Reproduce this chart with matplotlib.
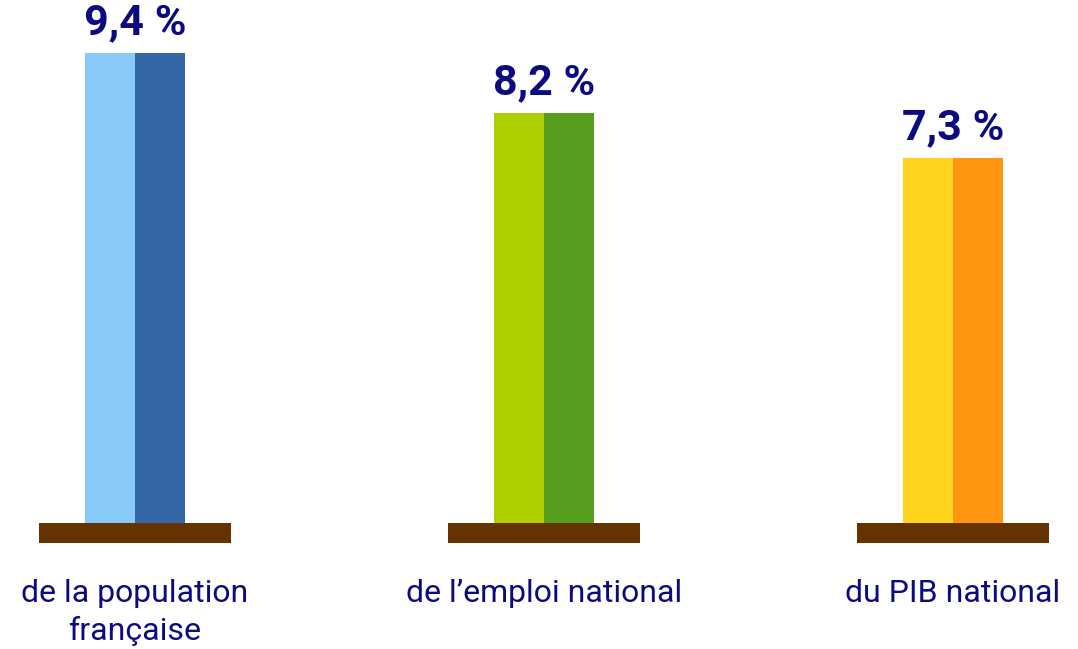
import numpy as np
import matplotlib.pyplot as plt

plt.rcParams['font.family'] = ['Roboto', 'DejaVu Sans']

# data
labels = ["de la population\nfrançaise", "de l\u2019emploi national", "du PIB national"]
values = [9.4, 8.2, 7.3]
value_text = ["9,4 %", "8,2 %", "7,3 %"]
left_colors = ["#87CAFA", "#AFCF00", "#FFD41F"]
right_colors = ["#3566A6", "#579D1E", "#FF9410"]
base_color = "#663300"
text_color = "#0B0A80"

fig = plt.figure(figsize=(10.78, 6.49), dpi=100)
ax = fig.add_axes([0, 0, 1, 1])

x = np.arange(len(values))
half = 0.123      # width of each half bar
base_w = 0.47     # width of the brown base
base_h = 0.4

ax.bar(x - half / 2, values, width=half, color=left_colors, linewidth=0)
ax.bar(x + half / 2, values, width=half, color=right_colors, linewidth=0)
ax.bar(x, [base_h] * len(x), bottom=-base_h, width=base_w, color=base_color, linewidth=0)

for xi, v, t in zip(x, values, value_text):
    ax.text(xi, v + 0.2, t, ha='center', va='bottom', fontsize=31,
            fontweight='bold', color=text_color)

for xi, lab in zip(x, labels):
    ax.text(xi, -1.12, lab, ha='center', va='top', fontsize=23,
            color=text_color, linespacing=1.35)

ax.set_xlim(-0.33, 2.306)
ax.set_ylim(-2.52, 10.46)
ax.axis('off')

fig.savefig("out.png", dpi=100, facecolor='white')
